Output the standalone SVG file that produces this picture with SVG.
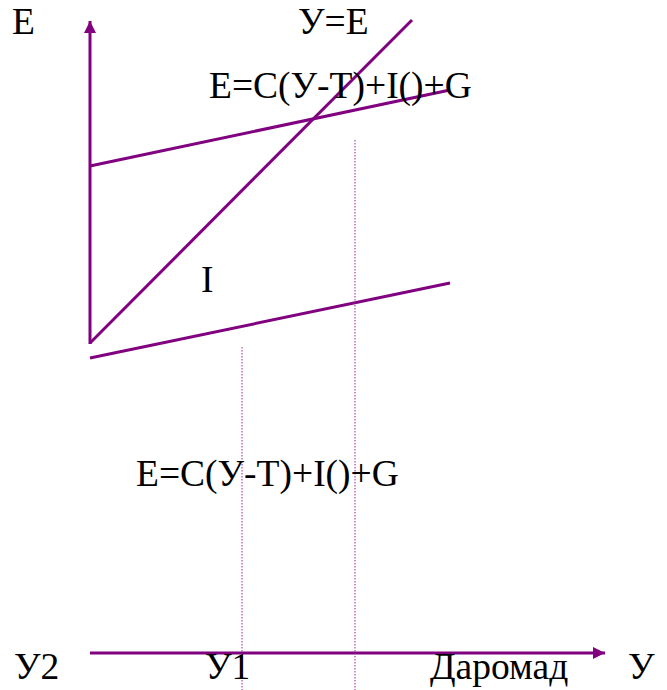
<svg xmlns="http://www.w3.org/2000/svg" width="667" height="690" viewBox="0 0 667 690">
<style>
text{font-family:"Liberation Serif","Times New Roman",serif;font-size:37.5px;fill:#000}
.l{stroke:#800080;stroke-width:3;fill:none}
.d{stroke:#a020a0;stroke-width:1;stroke-dasharray:1.5 1.5;fill:none}
</style>
<defs>
<marker id="ah" viewBox="0 0 10 10" refX="10" refY="5" markerWidth="4" markerHeight="4" orient="auto" markerUnits="strokeWidth">
<path d="M0,0 L10,5 L0,10 z" fill="#800080"/>
</marker>
</defs>
<g id="connectors">
<line class="l" x1="90" y1="344" x2="90" y2="21" marker-end="url(#ah)"/>
<line class="l" x1="90" y1="653" x2="605" y2="653" marker-end="url(#ah)"/>
<line class="l" x1="90" y1="343" x2="412" y2="20"/>
<line class="l" x1="90" y1="166" x2="450" y2="90"/>
<line class="l" x1="90" y1="358" x2="450" y2="283"/>
<line class="d" x1="355" y1="140" x2="355" y2="690"/>
<line class="d" x1="242" y1="347" x2="242" y2="690"/>
</g>
<g id="labels">
<text x="12" y="34">E</text>
<text x="298" y="34">У=E</text>
<text x="209" y="98">E=C(У-T)+I()+G</text>
<text x="201" y="292">I</text>
<text x="136" y="486">E=C(У-T)+I()+G</text>
<text x="14" y="679">У2</text>
<text x="205" y="679">У1</text>
<text x="430" y="679">Даромад</text>
<text x="628" y="679">У</text>
</g>
</svg>
